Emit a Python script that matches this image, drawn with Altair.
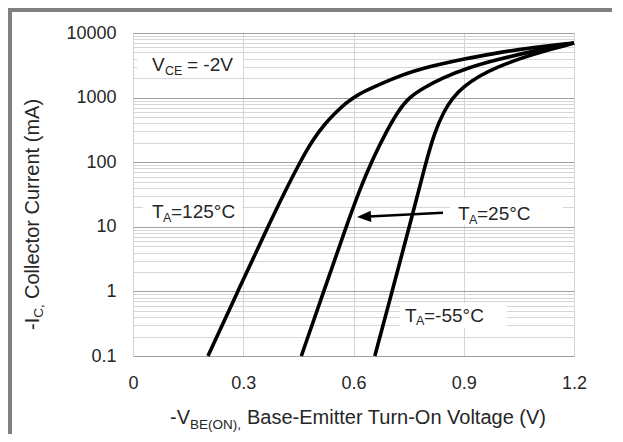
import altair as alt
import pandas as pd

# ---------------- data ----------------
series_names = ["TA=125C", "TA=25C", "TA=-55C"]

v_125 = [0.204, 0.285, 0.367, 0.41, 0.454, 0.49, 0.52, 0.55, 0.58, 0.61, 0.65, 0.70, 0.76, 0.83, 0.90, 0.98, 1.07, 1.2]
ic_125 = [0.1, 1, 10, 32, 100, 225, 380, 575, 830, 1100, 1410, 1900, 2570, 3240, 3980, 4790, 5820, 7000]

v_25 = [0.458, 0.519, 0.580, 0.615, 0.652, 0.69, 0.72, 0.75, 0.79, 0.84, 0.91, 0.99, 1.09, 1.2]
ic_25 = [0.1, 1, 10, 35.5, 112, 302, 603, 1000, 1410, 2000, 2880, 3890, 5250, 7000]

v_m55 = [0.658, 0.705, 0.752, 0.797, 0.82, 0.845, 0.87, 0.90, 0.94, 0.99, 1.06, 1.13, 1.2]
ic_m55 = [0.1, 1, 10, 100, 282, 603, 1000, 1480, 2140, 2950, 4170, 5500, 7000]

x_ticks = [0, 0.3, 0.6, 0.9, 1.2]
y_decades = [0.1, 1, 10, 100, 1000, 10000]
y_grid = [m * d for d in y_decades[:-1] for m in range(1, 10)] + [10000]

rows = []
for name, vs, cs in zip(series_names, [v_125, v_25, v_m55], [ic_125, ic_25, ic_m55]):
    for v, c in zip(vs, cs):
        rows.append({"series": name, "v": v, "ic": c})
df = pd.DataFrame(rows)

FONT = "Liberation Sans"
TXT = "#262626"
W, H = 441, 323

is_dec = "abs(log(datum.value)/LN10 - round(log(datum.value)/LN10)) < 0.001"

x_axis = alt.Axis(values=x_ticks, grid=True, gridColor="#d4d4d4", gridWidth=1,
                  ticks=False, tickSize=0, domain=False,
                  labelExpr="datum.value == 0 ? '0' : format(datum.value, '.1f')",
                  labelFont=FONT, labelFontSize=18, labelColor=TXT, labelPadding=18,
                  labelFlush=False, labelOverlap=False, title=None)

y_axis = alt.Axis(values=y_grid, grid=True,
                  gridColor={"condition": {"test": is_dec, "value": "#a0a0a0"}, "value": "#d6d6d6"},
                  gridWidth=1, ticks=False, tickSize=0, domain=False,
                  labelExpr=f"({is_dec}) ? format(datum.value, '~g') : ''",
                  labelFont=FONT, labelFontSize=18, labelColor=TXT, labelPadding=17,
                  labelFlush=False, labelOverlap=False, labelBound=False, title=None)

lines = alt.Chart(df).mark_line(color="black", strokeWidth=3.6, interpolate="basis").encode(
    x=alt.X("v:Q", scale=alt.Scale(domain=[0, 1.2], nice=False, zero=False), axis=x_axis),
    y=alt.Y("ic:Q", scale=alt.Scale(type="log", domain=[0.1, 10000], nice=False), axis=y_axis),
    detail="series:N",
)

one = pd.DataFrame({"k": [0]})


def txt(s, x, y, size, angle=0):
    return alt.Chart(one).mark_text(text=s, font=FONT, fontSize=size, color=TXT, align="left",
                                    baseline="alphabetic", angle=angle).encode(
        x=alt.value(x), y=alt.value(y))


def box(x1, x2, y1, y2):
    return alt.Chart(one).mark_rect(color="white").encode(
        x=alt.value(x1), x2=alt.value(x2), y=alt.value(y1), y2=alt.value(y2))


def rule(x1, y1, x2, y2, color, width):
    return alt.Chart(one).mark_rule(color=color, strokeWidth=width).encode(
        x=alt.value(x1), y=alt.value(y1), x2=alt.value(x2), y2=alt.value(y2))


boxes = [box(4, 110, 20, 44), box(10, 109, 165, 192), box(317, 430, 165, 192), box(267, 374, 270, 295)]

ann = [
    # V_CE = -2V
    txt("V", 19, 38, 19), txt("CE", 32, 42, 12.5), txt("= -2V", 54, 38, 19),
    # T_A=125C
    txt("T", 19, 185.3, 19), txt("A", 30, 189, 12.5), txt("=125°C", 38, 185.3, 19),
    # T_A=25C
    txt("T", 325, 187, 19), txt("A", 336, 190.7, 12.5), txt("=25°C", 344, 187, 19),
    # T_A=-55C
    txt("T", 272, 288.7, 19), txt("A", 283, 292.4, 12.5), txt("=-55°C", 291, 288.7, 19),
]

arrow_line = rule(310, 179.7, 236, 183.5, "black", 2.5)
arrow_head = alt.Chart(one).mark_point(shape="M -1 0 L 1 -0.8 L 1 0.8 Z", filled=True, color="black",
                                       size=196, opacity=1, strokeWidth=0, angle=357).encode(
    x=alt.value(231), y=alt.value(183.7))

# axis titles with subscripts
x_title = [
    txt("-V", 37, 391.3, 20), txt("BE(ON),", 57, 395.5, 13.5),
    txt("Base-Emitter Turn-On Voltage (V)", 114, 391.3, 20),
]
y_title = [
    txt("-I", -94.5, 297, 20, angle=270), txt("C,", -90, 284.8, 13.5, angle=270),
    txt("Collector Current (mA)", -94.5, 266, 20, angle=270),
]

frame = [rule(-123, -25, -123, 401, "#808080", 4), rule(-125, -23, 479, -23, "#808080", 4)]

chart = alt.layer(*frame, *boxes, lines, *ann, arrow_line, arrow_head, *x_title, *y_title).properties(
    width=W, height=H,
    padding={"left": 125, "top": 25, "right": 38, "bottom": 78},
    autosize=alt.AutoSizeParams(type="none"),
).configure_view(stroke=None)

chart.save("out.html", embed_options={"renderer": "svg", "actions": False})
